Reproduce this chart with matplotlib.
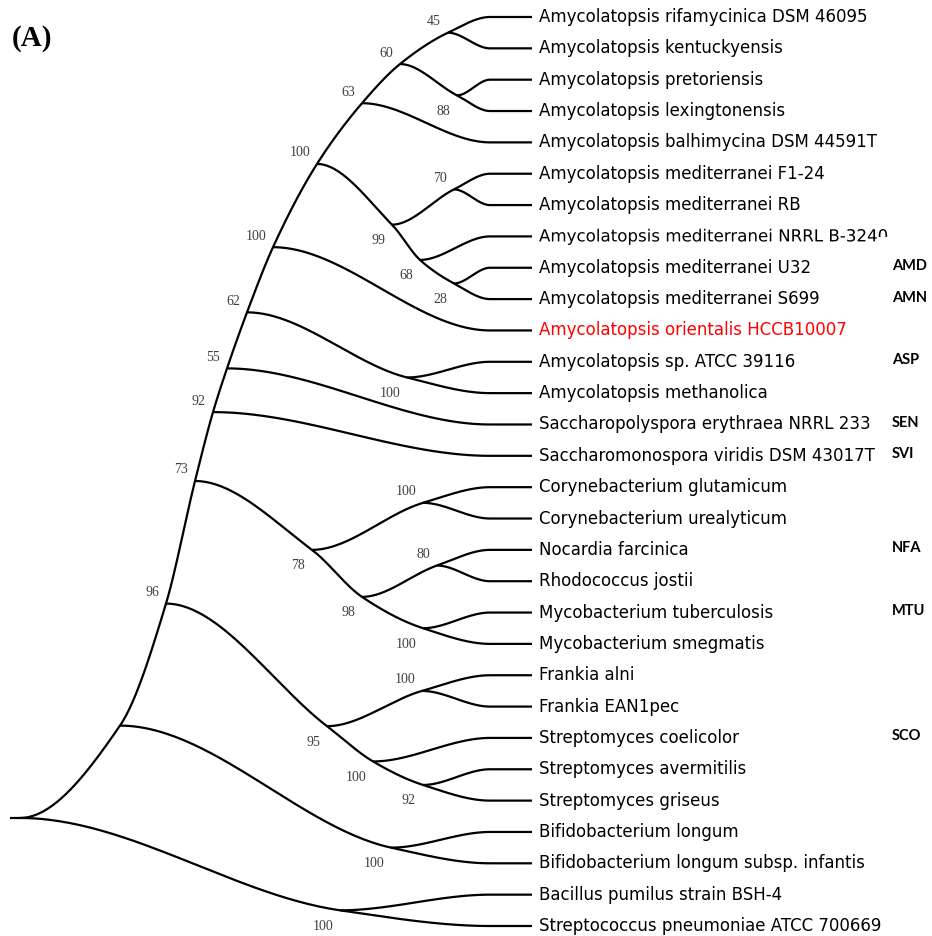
import numpy as np
import matplotlib
matplotlib.use("Agg")
import matplotlib.pyplot as plt
from matplotlib.path import Path
from matplotlib.patches import PathPatch
from matplotlib.textpath import TextPath
from matplotlib.font_manager import FontProperties
from matplotlib.transforms import Affine2D, IdentityTransform

leaves = [
    "Amycolatopsis rifamycinica DSM 46095",
    "Amycolatopsis kentuckyensis",
    "Amycolatopsis pretoriensis",
    "Amycolatopsis lexingtonensis",
    "Amycolatopsis balhimycina DSM 44591T",
    "Amycolatopsis mediterranei F1-24",
    "Amycolatopsis mediterranei RB",
    "Amycolatopsis mediterranei NRRL B-3240",
    "Amycolatopsis mediterranei U32",
    "Amycolatopsis mediterranei S699",
    "Amycolatopsis orientalis HCCB10007",
    "Amycolatopsis sp. ATCC 39116",
    "Amycolatopsis methanolica",
    "Saccharopolyspora erythraea NRRL 233",
    "Saccharomonospora viridis DSM 43017T",
    "Corynebacterium glutamicum",
    "Corynebacterium urealyticum",
    "Nocardia farcinica",
    "Rhodococcus jostii",
    "Mycobacterium tuberculosis",
    "Mycobacterium smegmatis",
    "Frankia alni",
    "Frankia EAN1pec",
    "Streptomyces coelicolor",
    "Streptomyces avermitilis",
    "Streptomyces griseus",
    "Bifidobacterium longum",
    "Bifidobacterium longum subsp. infantis",
    "Bacillus pumilus strain BSH-4",
    "Streptococcus pneumoniae ATCC 700669",
]
highlight = 10
cropped = 7  # bottom of the last glyph of this label is cut off

# clade -> (child, child); ints are leaf indices
clades = {
    "rifa_kent": (0, 1),
    "pret_lex": (2, 3),
    "amy_a": ("rifa_kent", "pret_lex"),
    "amy_b": ("amy_a", 4),
    "med_f1_rb": (5, 6),
    "med_u32_s699": (8, 9),
    "med_nrrl": (7, "med_u32_s699"),
    "mediterranei": ("med_f1_rb", "med_nrrl"),
    "amy_c": ("amy_b", "mediterranei"),
    "amy_d": ("amy_c", 10),
    "sp_meth": (11, 12),
    "amycolatopsis": ("amy_d", "sp_meth"),
    "pseudonocard_a": ("amycolatopsis", 13),
    "pseudonocard": ("pseudonocard_a", 14),
    "coryne": (15, 16),
    "noc_rho": (17, 18),
    "myco": (19, 20),
    "nocardiaceae": ("noc_rho", "myco"),
    "corynebacteriales": ("coryne", "nocardiaceae"),
    "group_a": ("pseudonocard", "corynebacteriales"),
    "frankia": (21, 22),
    "strep_av_gr": (24, 25),
    "streptomyces": (23, "strep_av_gr"),
    "frank_strep": ("frankia", "streptomyces"),
    "group_b": ("group_a", "frank_strep"),
    "bifido": (26, 27),
    "actinobacteria": ("group_b", "bifido"),
    "firmicutes": (28, 29),
    "root": ("actinobacteria", "firmicutes"),
}

depth = {
    "rifa_kent": 448, "pret_lex": 457, "amy_a": 400, "amy_b": 362,
    "med_f1_rb": 454, "med_u32_s699": 454, "med_nrrl": 420, "mediterranei": 392,
    "amy_c": 317, "amy_d": 273, "sp_meth": 407, "amycolatopsis": 247,
    "pseudonocard_a": 227, "pseudonocard": 213, "coryne": 423, "noc_rho": 437,
    "myco": 423, "nocardiaceae": 362, "corynebacteriales": 312, "group_a": 195,
    "frankia": 422, "strep_av_gr": 423, "streptomyces": 373, "frank_strep": 327,
    "group_b": 166, "bifido": 391, "actinobacteria": 120, "firmicutes": 340,
    "root": 20,
}

support = {
    "rifa_kent": 45, "pret_lex": 88, "amy_a": 60, "amy_b": 63,
    "med_f1_rb": 70, "med_u32_s699": 28, "med_nrrl": 68, "mediterranei": 99,
    "amy_c": 100, "amy_d": 100, "sp_meth": 100, "amycolatopsis": 62,
    "pseudonocard_a": 55, "pseudonocard": 92, "coryne": 100, "noc_rho": 80,
    "myco": 100, "nocardiaceae": 98, "corynebacteriales": 78, "group_a": 73,
    "frankia": 100, "strep_av_gr": 92, "streptomyces": 100, "frank_strep": 95,
    "group_b": 96, "bifido": 100, "firmicutes": 100,
}

codes = {8: "AMD", 9: "AMN", 11: "ASP", 13: "SEN", 14: "SVI",
         17: "NFA", 19: "MTU", 23: "SCO"}

leaf_depth = 490
tip_end = 532
label_x = 539
code_x = 892
root_stub = 10

W, H, DPI = 932, 936, 100
top_px, step_px = 17, (926 - 17) / 29


def pos(n):
    if isinstance(n, int):
        return leaf_depth, float(n)
    a, b = clades[n]
    return depth[n], (pos(a)[1] + pos(b)[1]) / 2


# split the tree into smooth runs: at each fork the child lying in the same
# direction as the incoming branch carries the curve on, the other starts flat
chains = []
incoming = {}


def follow(node, chain):
    chain.append(pos(node))
    if isinstance(node, int):
        chain.append((tip_end, float(node)))
        chains.append(chain)
        return
    going_up = chain[-1][1] < chain[-2][1]
    incoming[node] = going_up
    a, b = sorted(clades[node], key=lambda c: pos(c)[1])
    cont, other = (a, b) if going_up else (b, a)
    follow(other, [pos(node)])
    follow(cont, chain)


for child in clades["root"]:
    follow(child, [pos("root")])


def hermite_chain(pts):
    x = np.array([p[0] for p in pts], float)
    y = np.array([p[1] for p in pts], float)
    h = np.diff(x)
    d = np.diff(y) / h
    m = np.zeros(len(x))
    for k in range(1, len(x) - 1):
        if d[k - 1] * d[k] > 0:
            w1 = 2 * h[k] + h[k - 1]
            w2 = h[k] + 2 * h[k - 1]
            m[k] = (w1 + w2) / (w1 / d[k - 1] + w2 / d[k])
    xs, ys = [], []
    t = np.linspace(0, 1, 60)
    for k in range(len(x) - 1):
        h00 = 2 * t**3 - 3 * t**2 + 1
        h10 = t**3 - 2 * t**2 + t
        h01 = -2 * t**3 + 3 * t**2
        h11 = t**3 - t**2
        xs.append(x[k] + t * h[k])
        ys.append(h00 * y[k] + h10 * h[k] * m[k] + h01 * y[k + 1] + h11 * h[k] * m[k + 1])
    return np.concatenate(xs), np.concatenate(ys)


fig = plt.figure(figsize=(W / DPI, H / DPI), dpi=DPI)
ax = fig.add_axes([0, 0, 1, 1])
ax.set_xlim(0, W)
ax.set_ylim((H - top_px) / step_px, -top_px / step_px)
ax.axis("off")

for ch in chains:
    xs, ys = hermite_chain(ch)
    ax.plot(xs, ys, color="black", lw=1.6, solid_capstyle="butt")
rx, ry = pos("root")
ax.plot([root_stub, rx], [ry, ry], color="black", lw=1.6, solid_capstyle="butt")

# bootstrap values
for name, val in support.items():
    x, y = pos(name)
    dy = -11 / step_px if incoming[name] else 16 / step_px
    ax.text(x - 7, y + dy, str(val), ha="right", va="center",
            family="Liberation Serif", fontsize=10, color="#404040")

# leaf names
label_font = FontProperties(family="DejaVu Sans", size=12)
for i, name in enumerate(leaves):
    color = "#ff0000" if i == highlight else "black"
    t = ax.text(label_x, i, name, ha="left", va="center", fontproperties=label_font,
                color=color)
    if i != cropped:
        continue
    # redraw this label as an outline so its last glyph can be cropped
    fig.canvas.draw()
    r = fig.canvas.get_renderer()
    bb = t.get_window_extent(r)
    _, _, desc = r.get_text_width_height_descent(name, label_font, ismath=False)
    t.set_visible(False)
    x0 = ax.transData.transform((label_x, i))[0]
    base = bb.y0 + desc
    k = DPI / 72
    head_w = TextPath((0, 0), name[:-1], prop=label_font).get_extents().x1 * k
    glyph = TextPath((0, 0), "0", prop=label_font).get_extents()
    cut_x = x0 + head_w + 0.8
    cut_y = base + 0.32 * glyph.y1 * k
    patch = PathPatch(TextPath((0, 0), name, prop=label_font), facecolor=color,
                      edgecolor="none",
                      transform=Affine2D().scale(k).translate(x0, base))
    ax.add_patch(patch)
    clip = Path([(x0 - 5, bb.y0 - 5), (cut_x, bb.y0 - 5), (cut_x, cut_y),
                 (bb.x1 + 20, cut_y), (bb.x1 + 20, bb.y1 + 5), (x0 - 5, bb.y1 + 5),
                 (x0 - 5, bb.y0 - 5)], closed=True)
    patch.set_clip_path(clip, IdentityTransform())

for i, c in codes.items():
    ax.text(code_x, i - 0.05, c, ha="left", va="center", fontsize=10.5,
            family="Lato", fontweight="bold", color="black")

fig.text(12 / W, 1 - 38 / H, "(A)", ha="left", va="center", fontsize=21,
         family="Liberation Serif", fontweight="bold")

fig.savefig("out.png", dpi=DPI)
